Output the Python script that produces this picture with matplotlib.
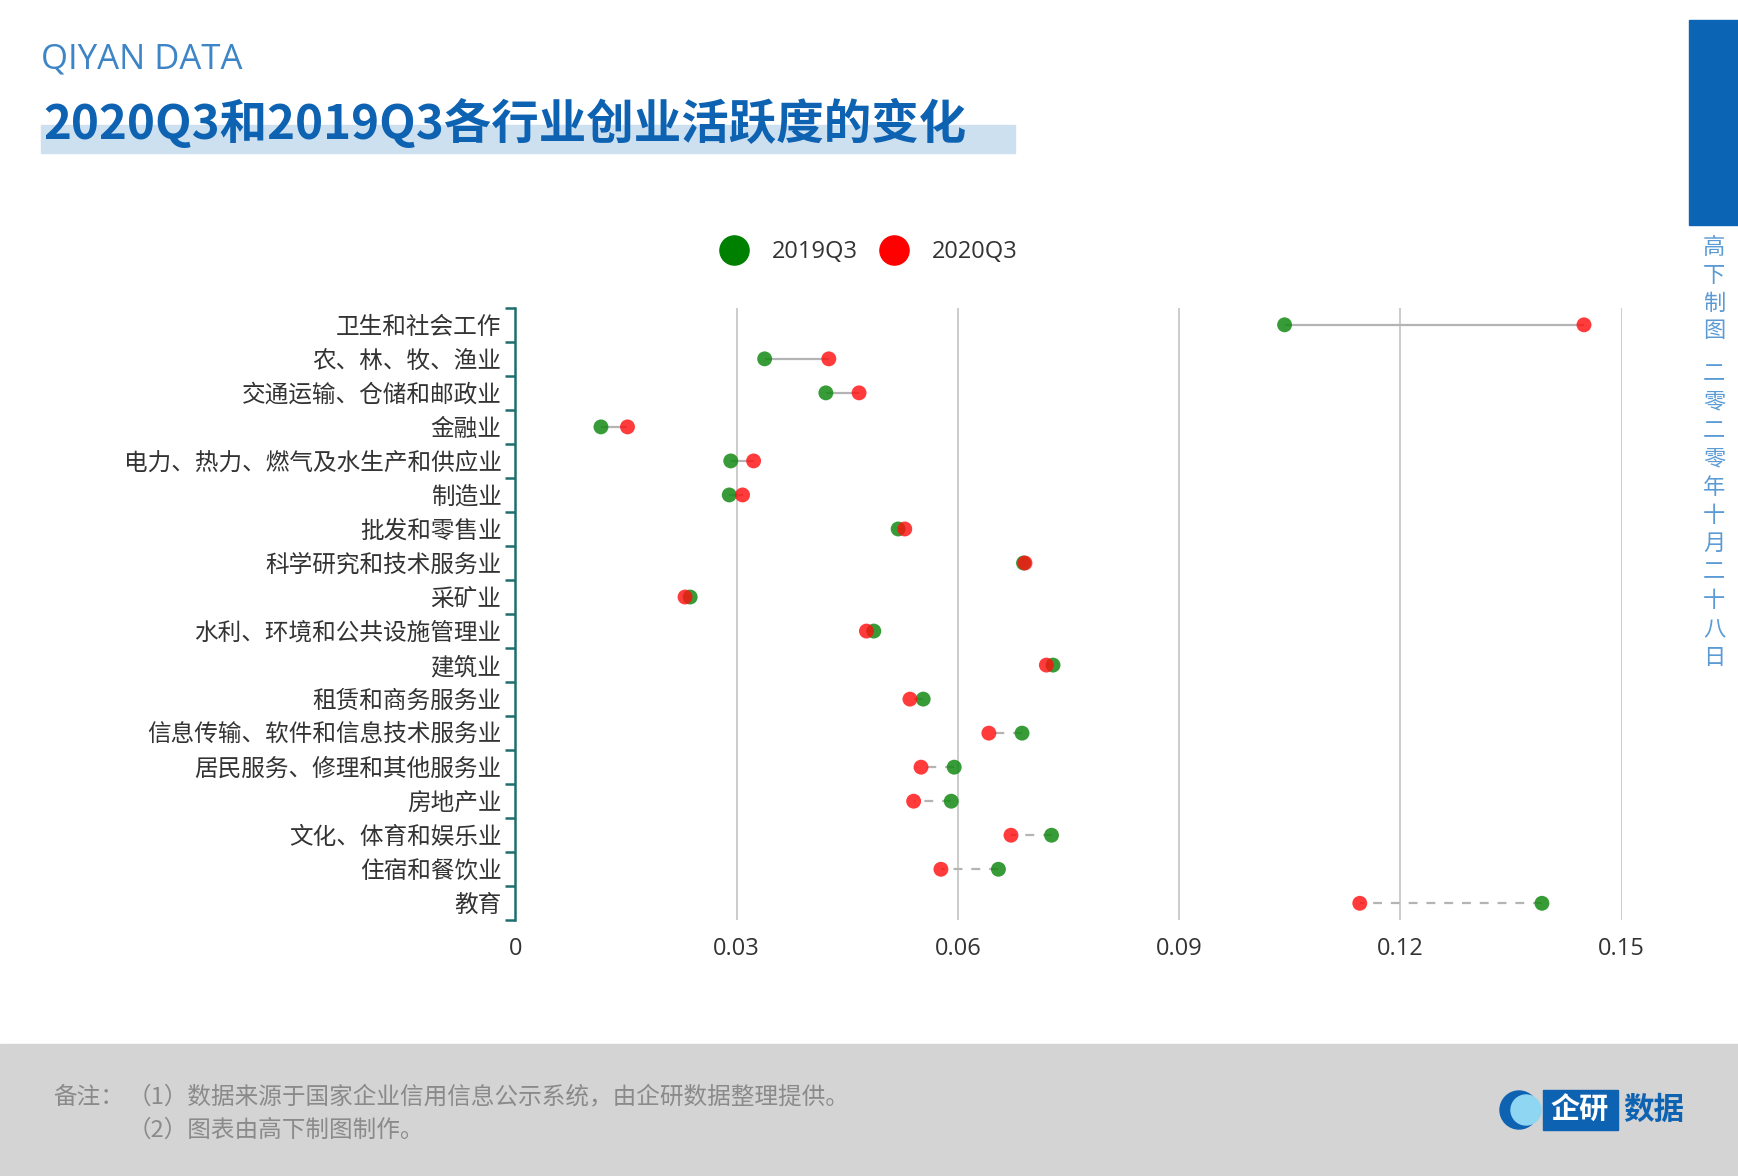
import matplotlib
matplotlib.use("Agg")
import matplotlib.pyplot as plt
from matplotlib.lines import Line2D
from matplotlib.patches import Rectangle, Circle

plt.rcParams['font.family'] = ['Noto Sans CJK SC', 'DejaVu Sans']

categories = ["卫生和社会工作", "农、林、牧、渔业", "交通运输、仓储和邮政业", "金融业",
              "电力、热力、燃气及水生产和供应业", "制造业", "批发和零售业", "科学研究和技术服务业",
              "采矿业", "水利、环境和公共设施管理业", "建筑业", "租赁和商务服务业",
              "信息传输、软件和信息技术服务业", "居民服务、修理和其他服务业", "房地产业",
              "文化、体育和娱乐业", "住宿和餐饮业", "教育"]
v2019 = [0.1043, 0.0338, 0.0421, 0.0116, 0.0292, 0.0290, 0.0519, 0.0689, 0.0237,
         0.0486, 0.0729, 0.0553, 0.0687, 0.0595, 0.0591, 0.0727, 0.0655, 0.1392]
v2020 = [0.1449, 0.0425, 0.0466, 0.0152, 0.0323, 0.0308, 0.0528, 0.0691, 0.0230,
         0.0476, 0.0720, 0.0535, 0.0642, 0.0550, 0.0540, 0.0672, 0.0577, 0.1145]
xticks = [0, 0.03, 0.06, 0.09, 0.12, 0.15]
xticklabels = ["0", "0.03", "0.06", "0.09", "0.12", "0.15"]
series_names = ["2019Q3", "2020Q3"]

W, H = 1738, 1176
fig = plt.figure(figsize=(W / 100, H / 100), dpi=100)

def fx(px):
    return px / W

def fy(py):
    return 1 - py / H

# Axes
ax = fig.add_axes([fx(515.4), fy(920.3), fx(1621.6) - fx(515.4), fy(307.8) - fy(920.3)])
ax.set_xlim(0, 0.15)
ax.set_ylim(len(categories) - 0.5, -0.5)

for i, (g, r) in enumerate(zip(v2019, v2020)):
    if r >= g:
        ax.plot([g, r], [i, i], color='#b4b4b4', lw=1.6, zorder=2, solid_capstyle='butt')
    else:
        ax.plot([g, r], [i, i], color='#b4b4b4', lw=1.6, zorder=2, dashes=(4, 4))

ys = list(range(len(categories)))
ax.scatter(v2019, ys, s=115, color='#148a14', alpha=0.85, edgecolors='none', zorder=3)
ax.scatter(v2020, ys, s=115, color='#ff1010', alpha=0.82, edgecolors='none', zorder=4)

ax.set_xticks(xticks)
ax.set_xticklabels(xticklabels, fontsize=17, color='#333333', family=['Open Sans', 'DejaVu Sans'])
ax.tick_params(axis='x', length=0, pad=12)
ax.set_yticks(ys)
ax.set_yticklabels(categories, fontsize=17, color='#333333')
ax.tick_params(axis='y', which='major', length=0, pad=10)
ax.set_yticks([i - 0.5 for i in range(len(categories) + 1)], minor=True)
ax.tick_params(axis='y', which='minor', length=7, width=1.8, color='#1f6e6e')

ax.grid(axis='x', color='#c8c8c8', lw=1.3)
ax.set_axisbelow(True)
for s in ['top', 'right', 'bottom']:
    ax.spines[s].set_visible(False)
ax.spines['left'].set_color('#1f6e6e')
ax.spines['left'].set_linewidth(1.8)
gl = ax.get_xgridlines()
gl[0].set_visible(False)

# Legend
handles = [Line2D([], [], ls='none', marker='o', markersize=21, color='#008000'),
           Line2D([], [], ls='none', marker='o', markersize=21, color='#ff0000')]
fig.legend(handles, series_names, loc='center', bbox_to_anchor=(fx(864), fy(252)), ncol=2,
           frameon=False, handletextpad=0.6, columnspacing=0.5,
           labelcolor='#333333', prop={'family': ['Open Sans', 'DejaVu Sans'], 'size': 17})

# Header
fig.text(fx(41), fy(59), "QIYAN DATA", fontsize=25, color='#3d85c6', va='center', ha='left',
         family=['Open Sans', 'DejaVu Sans'], fontweight='medium')
fig.patches.append(Rectangle((fx(41), fy(153)), fx(1015) - fx(41), fy(125) - fy(153),
                             transform=fig.transFigure, color='#cde0f0', zorder=-1))
fig.text(fx(43), fy(124), "2020Q3和2019Q3各行业创业活跃度的变化", fontsize=34.2, color='#0d62b2',
         fontweight='bold', va='center', ha='left', zorder=2)

# Right side bar and vertical text
fig.patches.append(Rectangle((fx(1689), fy(225)), fx(1738) - fx(1689), fy(20) - fy(225),
                             transform=fig.transFigure, color='#0b64b4', zorder=-1))
side1 = "高下制图"
side2 = "二零二零年十月二十八日"
for k, ch in enumerate(side1):
    fig.text(fx(1714), fy(248 + k * 27.5), ch, fontsize=16, color='#5b9bd5', ha='center', va='center')
for k, ch in enumerate(side2):
    fig.text(fx(1714), fy(374 + k * 28.3), ch, fontsize=16, color='#5b9bd5', ha='center', va='center')

# Footer
fig.patches.append(Rectangle((0, 0), 1, fy(1044), transform=fig.transFigure, color='#d4d4d4', zorder=-1))
fig.text(fx(53), fy(1097), "备注：", fontsize=17, color='#8a8a8a', va='center', ha='left')
fig.text(fx(128), fy(1097), "（1）数据来源于国家企业信用信息公示系统，由企研数据整理提供。", fontsize=17,
         color='#8a8a8a', va='center', ha='left')
fig.text(fx(128), fy(1130), "（2）图表由高下制图制作。", fontsize=17, color='#8a8a8a', va='center', ha='left')

# Logo
lax = fig.add_axes([fx(1495), fy(1135), fx(1700) - fx(1495), fy(1085) - fy(1135)], zorder=5)
lax.set_xlim(1495, 1700)
lax.set_ylim(1135, 1085)
lax.axis('off')
lax.add_patch(Circle((1519, 1110), 19, color='#0d62b2'))
lax.add_patch(Circle((1526, 1110), 15, color='#8fd6f2'))
lax.add_patch(Rectangle((1543, 1090), 75, 40, color='#0d62b2'))
lax.text(1580, 1110, "企研", fontsize=21, fontweight='bold', color='white', ha='center', va='center')
lax.text(1654, 1110, "数据", fontsize=22, fontweight='bold', color='#0d62b2', ha='center', va='center')

fig.savefig("out.png", dpi=100)
